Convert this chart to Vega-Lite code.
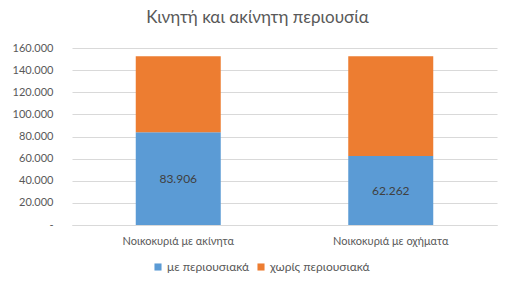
{
  "$schema": "https://vega.github.io/schema/vega-lite/v6.json",
  "width": 425,
  "height": 177,
  "autosize": "none",
  "padding": {"left": 72, "top": 48, "right": 17, "bottom": 65},
  "background": "white",
  "config": {
    "locale": {"number": {"decimal": ",", "thousands": ".", "grouping": [3], "currency": ["", " €"]}},
    "font": "Lato",
    "view": {"stroke": null},
    "axis": {"labelColor": "#595959", "labelFont": "Lato", "labelFontSize": 12}
  },
  "title": {
    "text": "Κινητή και ακίνητη περιουσία",
    "font": "Lato",
    "fontSize": 17,
    "fontWeight": "normal",
    "color": "#595959",
    "anchor": "middle",
    "dx": -27,
    "offset": 15
  },
  "data": {
    "values": [
      {"category": "Νοικοκυριά με ακίνητα", "series": "με περιουσιακά", "order": 1, "value": 83906},
      {"category": "Νοικοκυριά με ακίνητα", "series": "χωρίς περιουσιακά", "order": 2, "value": 68594},
      {"category": "Νοικοκυριά με οχήματα", "series": "με περιουσιακά", "order": 1, "value": 62262},
      {"category": "Νοικοκυριά με οχήματα", "series": "χωρίς περιουσιακά", "order": 2, "value": 90238}
    ]
  },
  "encoding": {
    "x": {
      "field": "category",
      "type": "nominal",
      "sort": null,
      "scale": {"paddingInner": 0.6, "paddingOuter": 0.3},
      "axis": {"title": null, "labelAngle": 0, "domainColor": "#d9d9d9", "ticks": false, "labelPadding": 10, "labelFontSize": 11}
    },
    "order": {"field": "order", "type": "quantitative"}
  },
  "layer": [
    {
      "mark": {"type": "bar"},
      "encoding": {
        "y": {
          "field": "value",
          "type": "quantitative",
          "stack": "zero",
          "scale": {"domain": [0, 160000]},
          "axis": {
            "title": null,
            "values": [0, 20000, 40000, 60000, 80000, 100000, 120000, 140000, 160000],
            "labelExpr": "datum.value == 0 ? '-' : format(datum.value, ',')",
            "labelFontSize": 11,
            "domain": false,
            "ticks": false,
            "gridColor": "#d9d9d9",
            "labelPadding": 19
          }
        },
        "color": {
          "field": "series",
          "type": "nominal",
          "scale": {"domain": ["με περιουσιακά", "χωρίς περιουσιακά"], "range": ["#5B9BD5", "#ED7D31"]},
          "legend": {
            "title": null,
            "orient": "none",
            "direction": "horizontal",
            "legendX": 80,
            "legendY": 213,
            "symbolType": "square",
            "symbolSize": 50,
            "symbolStrokeWidth": 0,
            "labelFontSize": 12,
            "labelColor": "#595959",
            "labelFont": "Lato",
            "columnPadding": 5,
            "labelOffset": 3
          }
        }
      }
    },
    {
      "transform": [{"filter": "datum.series == 'με περιουσιακά'"}],
      "mark": {"type": "text", "color": "#404040", "fontSize": 12, "font": "Lato"},
      "encoding": {
        "y": {
          "field": "value",
          "type": "quantitative",
          "stack": "zero",
          "bandPosition": 0.5,
          "scale": {"domain": [0, 160000]},
          "axis": {
            "title": null,
            "values": [0, 20000, 40000, 60000, 80000, 100000, 120000, 140000, 160000],
            "labelExpr": "datum.value == 0 ? '-' : format(datum.value, ',')",
            "labelFontSize": 11,
            "domain": false,
            "ticks": false,
            "gridColor": "#d9d9d9",
            "labelPadding": 19
          }
        },
        "text": {"field": "value", "type": "quantitative", "format": ","}
      }
    }
  ]
}
